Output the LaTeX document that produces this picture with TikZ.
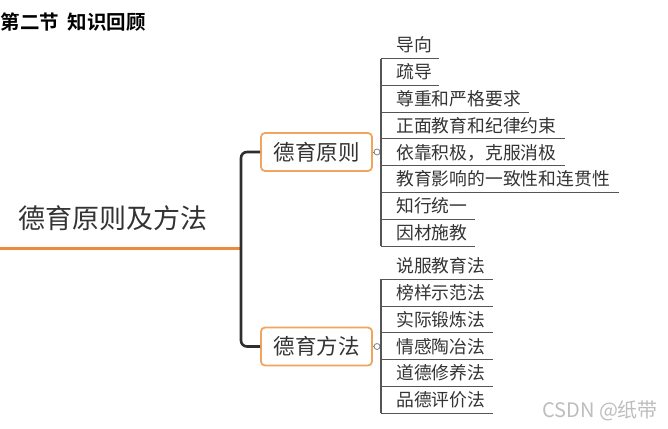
\documentclass[tikz,border=0pt]{standalone}
\usepackage{fontspec}
\setmainfont{Noto Sans CJK SC}[BoldFont={Noto Sans CJK SC Bold}]
\definecolor{txt}{HTML}{333333}
\definecolor{orangeline}{HTML}{EE8A3C}
\definecolor{boxorange}{HTML}{F0A55E}
\definecolor{trunkcol}{HTML}{2E2E2E}
\definecolor{leafline}{HTML}{555555}
\definecolor{wm}{HTML}{BDBDBD}
\begin{document}
\begin{tikzpicture}[x=1pt,y=-1pt,
  titletext/.style={anchor=west, inner sep=0, font=\bfseries\fontsize{19.5}{19.5}\selectfont, text=black},
  roottext/.style={inner sep=0, font=\fontsize{27}{27}\selectfont, text=txt},
  boxnode/.style={draw=boxorange, line width=1.8pt, rounded corners=4pt, fill=white,
    minimum width=111pt, minimum height=38pt, inner sep=0, text=txt, font=\fontsize{21.5}{21.5}\selectfont},
  dotnode/.style={circle, draw=gray, line width=0.8pt, fill=white, minimum size=6pt, inner sep=0},
  leaf/.style={anchor=south west, inner xsep=0, inner ysep=6.4pt, text depth=0pt,
    text width=#1, align=left, text=txt, font=\fontsize{17.8}{17.8}\selectfont},
  underline/.style={draw=leafline, line width=1.1pt},
  trunk/.style={draw=trunkcol, line width=2.6pt, rounded corners=6pt},
  rootline/.style={draw=orangeline, line width=3pt},
  stem/.style={draw=leafline, line width=1.1pt},
  link/.style={draw=gray, line width=1pt},
  watermark/.style={anchor=west, inner sep=0, text=wm, font=\fontsize{20}{20}\selectfont}
]
\useasboundingbox (0,0) rectangle (668,428);

% title
\node[titletext] (title) at (0.5,22) {第二节\hspace{0.45em}知识回顾};

% root
\node[roottext] (root) at (113,218) {德育原则及方法};
\coordinate (rl) at (0,248);
\coordinate (rj) at (241,248);

% main branches
\node[boxnode] (p1) at (316.5,152) {德育原则};
\node[boxnode] (p2) at (316.5,346.5) {德育方法};
\draw[rootline] (rl) -- (rj);
\draw[trunk] (p1.west) -| (rj) |- (p2.west);

% collapse dots
\node[dotnode] (c1) at (377,152) {};
\node[dotnode] (c2) at (377,346.5) {};
\draw[link] (p1.east) -- (c1.west);
\draw[link] (p2.east) -- (c2.west);

% group 1 leaves
\node[leaf=58pt]  (a1) at (381,58.5)  {\hspace*{15pt}导向};
\node[leaf=58pt]  (a2) at (381,85.3)  {\hspace*{15pt}疏导};
\node[leaf=148pt] (a3) at (381,112.1) {\hspace*{15pt}尊重和严格要求};
\node[leaf=184pt] (a4) at (381,138.9) {\hspace*{15pt}正面教育和纪律约束};
\node[leaf=184pt] (a5) at (381,165.7) {\hspace*{15pt}依靠积极，克服消极};
\node[leaf=238pt] (a6) at (381,192.5) {\hspace*{15pt}教育影响的一致性和连贯性};
\node[leaf=94pt]  (a7) at (381,219.3) {\hspace*{15pt}知行统一};
\node[leaf=94pt]  (a8) at (381,246.1) {\hspace*{15pt}因材施教};
\foreach \n in {a1,a2,a3,a4,a5,a6,a7,a8}
  \draw[underline] (\n.south west) -- (\n.south east);
\draw[stem] (a1.south west) -- (a8.south west);

% group 2 leaves
\node[leaf=112pt] (b1) at (381,279.3) {\hspace*{15pt}说服教育法};
\node[leaf=112pt] (b2) at (381,306.1) {\hspace*{15pt}榜样示范法};
\node[leaf=112pt] (b3) at (381,332.9) {\hspace*{15pt}实际锻炼法};
\node[leaf=112pt] (b4) at (381,359.7) {\hspace*{15pt}情感陶冶法};
\node[leaf=112pt] (b5) at (381,386.5) {\hspace*{15pt}道德修养法};
\node[leaf=112pt] (b6) at (381,413.3) {\hspace*{15pt}品德评价法};
\foreach \n in {b1,b2,b3,b4,b5,b6}
  \draw[underline] (\n.south west) -- (\n.south east);
\draw[stem] (b1.south west) -- (b6.south west);

% watermark
\node[watermark] (wmk) at (542,411) {CSDN @纸带};
\end{tikzpicture}
\end{document}
